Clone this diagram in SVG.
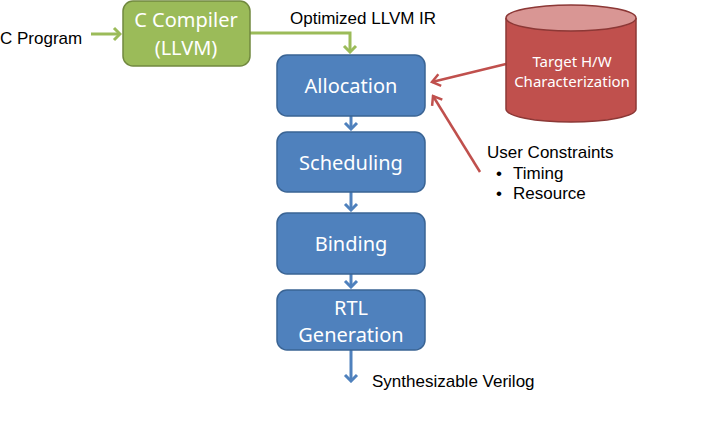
<svg xmlns="http://www.w3.org/2000/svg" width="722" height="442" viewBox="0 0 722 442">
<style>
.lbl{font-family:"Liberation Sans",Arial,sans-serif;font-size:17px;fill:#000}
.box{font-family:"Noto Sans","Open Sans",sans-serif;font-size:20px;fill:#fff;text-anchor:middle}
.blue{fill:#4F81BD;stroke:#3A6494;stroke-width:1.5}
.green{fill:#9BBB59;stroke:#71893F;stroke-width:1.5}
.ga{fill:none;stroke:#9BBB59;stroke-width:3}
.ba{fill:none;stroke:#4F81BD;stroke-width:3}
.ra{fill:none;stroke:#C0504D;stroke-width:2.5}
</style>
<defs>
<marker id="mg" markerUnits="userSpaceOnUse" viewBox="-8 -8 10 16" markerWidth="10" markerHeight="16" refX="0" refY="0" orient="auto">
<path d="M-6,-6 L0,0 L-6,6" fill="none" stroke="#9BBB59" stroke-width="3"/>
</marker>
<marker id="mb" markerUnits="userSpaceOnUse" viewBox="-8 -8 10 16" markerWidth="10" markerHeight="16" refX="0" refY="0" orient="auto">
<path d="M-6,-6 L0,0 L-6,6" fill="none" stroke="#4F81BD" stroke-width="3"/>
</marker>
<marker id="mr" markerUnits="userSpaceOnUse" viewBox="-10 -8 12 16" markerWidth="12" markerHeight="16" refX="0" refY="0" orient="auto">
<path d="M-8,-6 L0,0 L-8,6" fill="none" stroke="#C0504D" stroke-width="2.5"/>
</marker>
</defs>
<g id="connectors">
<path class="ga" d="M91,34 H120" marker-end="url(#mg)"/>
<path class="ga" d="M250,33 H350 V52" marker-end="url(#mg)"/>
<path class="ba" d="M351,116 V129" marker-end="url(#mb)"/>
<path class="ba" d="M351,192 V210" marker-end="url(#mb)"/>
<path class="ba" d="M351,274 V287" marker-end="url(#mb)"/>
<path class="ba" d="M351,350 V381" marker-end="url(#mb)"/>
<path class="ra" d="M506,64 L432,82" marker-end="url(#mr)"/>
<path class="ra" d="M480,172 L433,96" marker-end="url(#mr)"/>
</g>
<g id="cprogram"><text class="lbl" x="0" y="44">C Program</text></g>
<g id="compiler">
<rect class="green" x="123" y="1" width="127" height="65" rx="10"/>
<text class="box" x="186" y="27">C Compiler</text>
<text class="box" x="186" y="55">(LLVM)</text>
</g>
<g id="llvmir"><text class="lbl" x="290" y="24">Optimized LLVM IR</text></g>
<g id="allocation">
<rect class="blue" x="277" y="55" width="148" height="61" rx="10"/>
<text class="box" x="351" y="93">Allocation</text>
</g>
<g id="scheduling">
<rect class="blue" x="277" y="132" width="148" height="60" rx="10"/>
<text class="box" x="351" y="170">Scheduling</text>
</g>
<g id="binding">
<rect class="blue" x="277" y="213" width="148" height="61" rx="10"/>
<text class="box" x="351" y="251">Binding</text>
</g>
<g id="rtl">
<rect class="blue" x="277" y="290" width="148" height="60" rx="10"/>
<text class="box" x="351" y="315">RTL</text>
<text class="box" x="351" y="342">Generation</text>
</g>
<g id="verilog"><text class="lbl" x="372" y="387">Synthesizable Verilog</text></g>
<g id="target">
<path d="M506,18 V109 A65,13 0 0 0 636,109 V18" fill="#C0504D" stroke="#8C3836" stroke-width="1.5"/>
<ellipse cx="571" cy="18" rx="65" ry="13" fill="#D99694" stroke="#8C3836" stroke-width="1.5"/>
<text class="box" style="font-size:15px" x="572" y="67">Target H/W</text>
<text class="box" style="font-size:15px" x="572" y="87">Characterization</text>
</g>
<g id="constraints">
<text class="lbl" x="487" y="158">User Constraints</text>
<text class="lbl" x="496" y="179">•</text>
<text class="lbl" x="513" y="179">Timing</text>
<text class="lbl" x="496" y="199">•</text>
<text class="lbl" x="513" y="199">Resource</text>
</g>
</svg>
